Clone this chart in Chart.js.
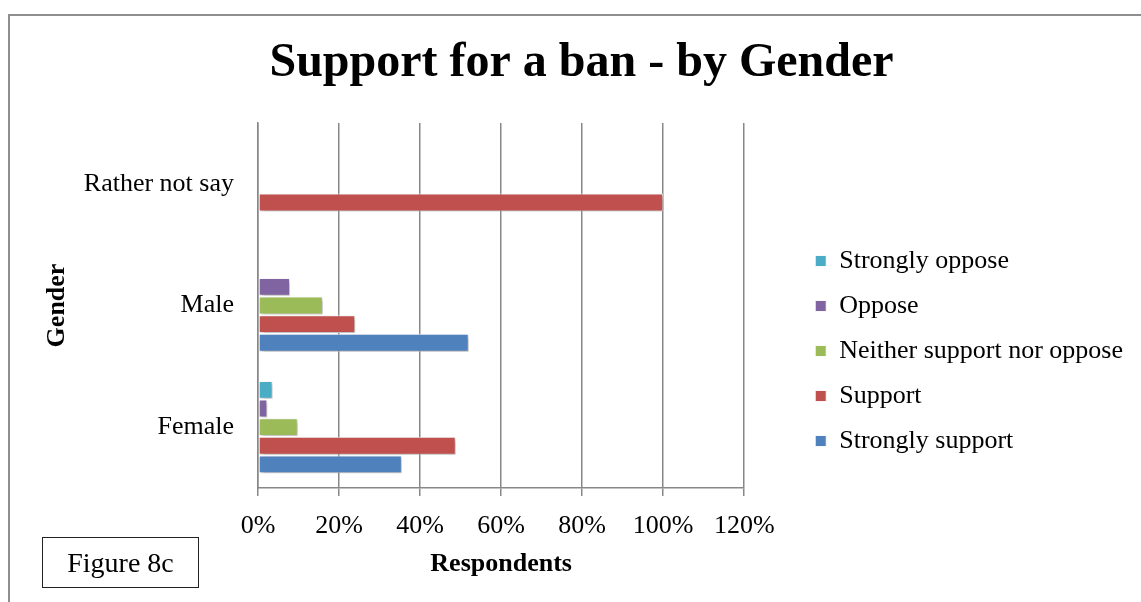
<!DOCTYPE html>
<html>
<head>
<meta charset="utf-8">
<script src="https://cdn.jsdelivr.net/npm/chart.js@4.4.1/dist/chart.umd.min.js"></script>
<style>
  body { margin: 0; background: #fff; overflow: hidden; }
  #frame { position: absolute; left: 8px; top: 14px; width: 1200px; height: 700px;
           border-top: 2px solid #8e8e8e; border-left: 2px solid #8e8e8e; }
  #wrap { position: absolute; left: 0; top: 0; width: 1141px; height: 602px; }
  #figlabel { position: absolute; left: 42px; top: 537px; width: 155px; height: 49px;
              border: 1.5px solid #222; font-family: "Liberation Serif", serif; font-size: 28px;
              line-height: 49px; text-align: center; color: #000; }
</style>
</head>
<body>
<div id="frame"></div>
<div id="wrap"><canvas id="myChart"></canvas></div>
<div id="figlabel">Figure 8c</div>
<script>
var categories = ["Rather not say", "Male", "Female"];
var seriesNames = ["Strongly oppose", "Oppose", "Neither support nor oppose", "Support", "Strongly support"];
// percent of respondents, same order as categories
var stronglyOppose = [null, null, 3.6];
var oppose = [null, 7.9, 2.3];
var neither = [null, 16, 9.8];
var support = [100, 24, 48.8];
var stronglySupport = [null, 52, 35.5];
var xTicks = [0, 20, 40, 60, 80, 100, 120];

var colors = ['#4bacc6', '#8064a2', '#9bbb59', '#c0504d', '#4f81bd'];
var values = [stronglyOppose, oppose, neither, support, stronglySupport];
var serif = '"Liberation Serif", "Times New Roman", serif';
var gridGray = '#878787';

var datasets = [];
for (var i = 0; i < seriesNames.length; i++) {
  datasets.push({
    label: seriesNames[i],
    data: values[i],
    backgroundColor: colors[i],
    borderColor: 'rgba(255,255,255,0.9)',
    borderWidth: 1,
    borderSkipped: false
  });
}

// soft drop shadow under the bars
var barShadow = {
  id: 'barShadow',
  beforeDatasetsDraw: function (chart) {
    var c = chart.ctx;
    c.save();
    c.shadowColor = 'rgba(0,0,0,0.3)';
    c.shadowBlur = 4;
    c.shadowOffsetX = 2;
    c.shadowOffsetY = 2;
  },
  afterDatasetsDraw: function (chart) {
    chart.ctx.restore();
  }
};

Chart.defaults.font.family = serif;
Chart.defaults.color = '#000';

var ctx = document.getElementById("myChart");
var myChart = new Chart(ctx, {
  type: 'bar',
  data: { labels: categories, datasets: datasets },
  plugins: [barShadow],
  options: {
    indexAxis: 'y',
    responsive: true,
    maintainAspectRatio: false,
    animation: false,
    layout: { padding: { left: 30, right: 8, top: 0, bottom: 0 } },
    datasets: { bar: { categoryPercentage: 0.765, barPercentage: 0.96 } },
    plugins: {
      tooltip: { enabled: false },
      title: {
        display: true,
        text: 'Support for a ban - by Gender',
        font: { size: 48, weight: 'bold', family: serif },
        color: '#000',
        padding: { top: 35, bottom: 30.4 }
      },
      legend: {
        position: 'right',
        maxWidth: 400,
        title: { display: true, text: '', font: { size: 10 }, padding: { top: 88, bottom: 0 } },
        labels: {
          boxWidth: 11,
          boxHeight: 11,
          padding: 19,
          font: { size: 26, family: serif },
          color: '#000'
        }
      }
    },
    scales: {
      x: {
        min: xTicks[0],
        max: xTicks[xTicks.length - 1],
        ticks: {
          stepSize: xTicks[1] - xTicks[0],
          padding: 15,
          font: { size: 26 },
          color: '#000',
          callback: function (v) { return v + '%'; }
        },
        grid: { color: gridGray, lineWidth: 1.5, tickLength: 8, tickColor: gridGray },
        border: { color: gridGray, width: 1.5 },
        title: {
          display: true,
          text: 'Respondents',
          font: { size: 26, weight: 'bold' },
          color: '#000',
          padding: { top: 0, bottom: 22 }
        },
        afterFit: function (s) { s.height = 114; }
      },
      y: {
        grid: { display: false, drawTicks: false },
        border: { color: gridGray, width: 1.5 },
        ticks: { padding: 24, font: { size: 26 }, color: '#000' },
        title: {
          display: true,
          text: 'Gender',
          font: { size: 26, weight: 'bold' },
          color: '#000',
          padding: { top: 12, bottom: 0 }
        },
        afterFit: function (s) { s.width = 228; }
      },
      y2: {
        type: 'category',
        position: 'right',
        grid: { display: false },
        border: { display: false },
        ticks: { display: false },
        afterFit: function (s) { s.width = 52; }
      }
    }
  }
});
</script>
</body>
</html>
